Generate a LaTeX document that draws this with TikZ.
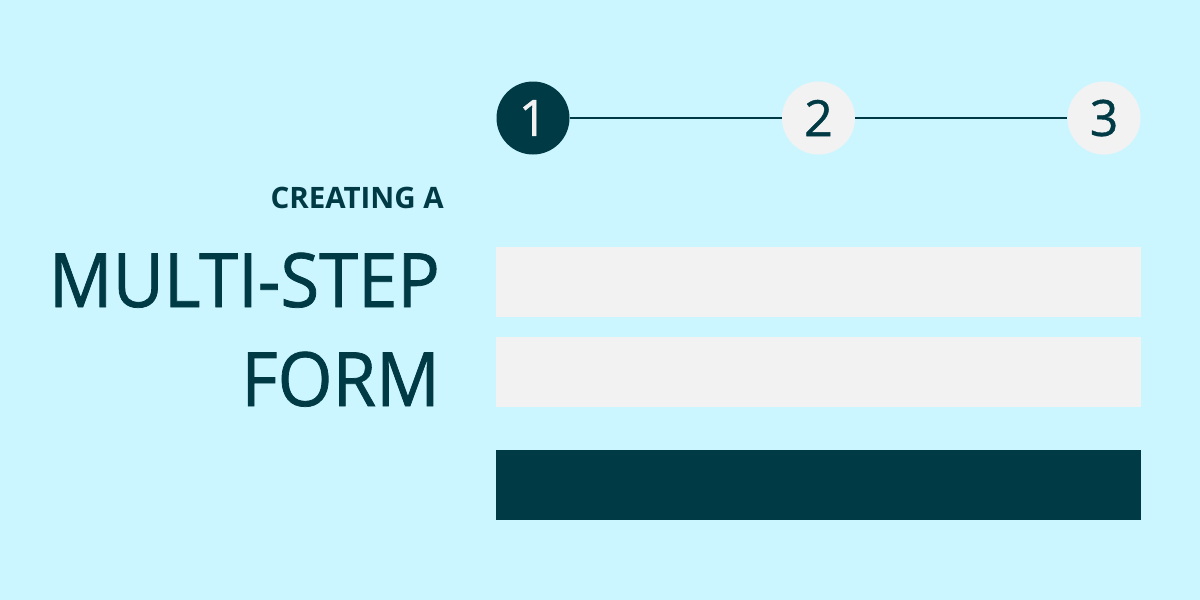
\documentclass[tikz,border=0pt]{standalone}
\usepackage{fontspec}
\setmainfont{Open Sans}
\newfontfamily\heavy[FakeBold=1,FakeStretch=0.94]{Open Sans}
\newfontfamily\numfont[FakeBold=0.8]{Open Sans}
\definecolor{bg}{RGB}{204,246,255}
\definecolor{dark}{RGB}{0,58,69}
\definecolor{lite}{RGB}{242,242,242}
\begin{document}
\begin{tikzpicture}[x=1pt,y=-1pt,
  stepdot/.style={circle,minimum size=73pt,inner sep=0pt,font=\numfont\fontsize{50}{50}\selectfont},
  field/.style={fill=lite},
  title/.style={anchor=base east,inner sep=0pt,text=dark}]
\fill[bg] (0,0) rectangle (1200,600);
\useasboundingbox (0,0) rectangle (1200,600);
\node[stepdot,fill=dark,text=lite] (s1) at (533,118) {1};
\node[stepdot,fill=lite,text=dark] (s2) at (818.5,118) {2};
\node[stepdot,fill=lite,text=dark] (s3) at (1104,118) {3};
\draw[dark,line width=1.8pt] (s1) -- (s2);
\draw[dark,line width=1.8pt] (s2) -- (s3);
\fill[field] (496,247) rectangle (1141,317);
\fill[field] (496,337) rectangle (1141,407);
\fill[dark] (496,450) rectangle (1141,520);
\node[title] (t1) at (444,208) {\fontsize{29.5}{30}\selectfont\bfseries CREATING A};
\node[title] (t2) at (440,307) {\heavy\fontsize{75}{75}\selectfont MULTI-STEP};
\node[title] (t3) at (440,406) {\heavy\fontsize{75}{75}\selectfont FORM};
\end{tikzpicture}
\end{document}
